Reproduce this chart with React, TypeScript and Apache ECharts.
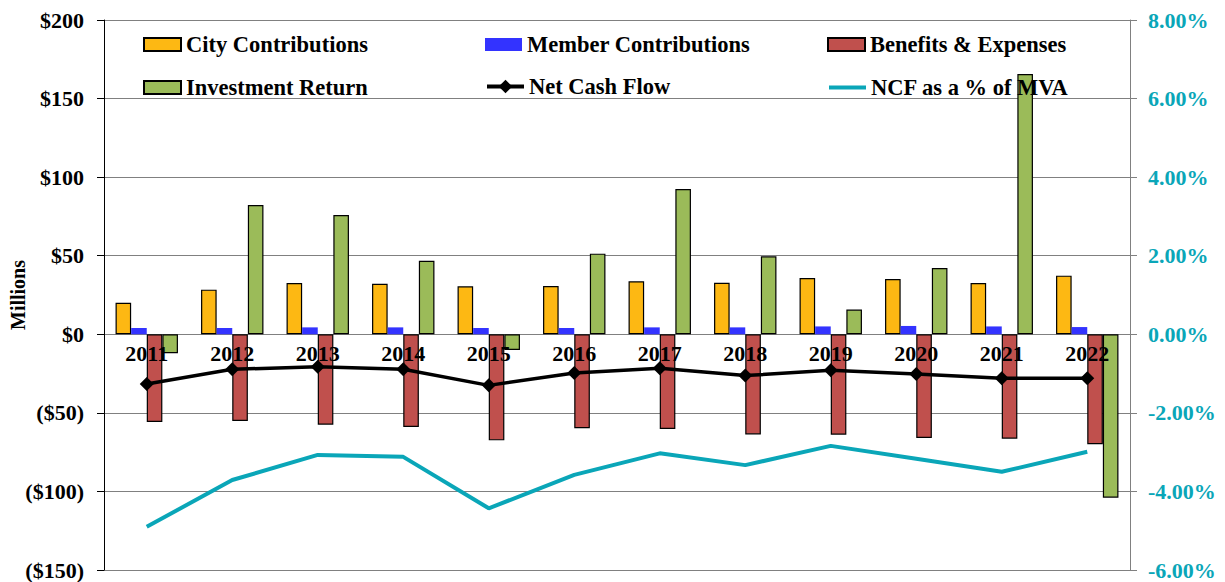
import React, { useEffect, useRef } from "react";
import * as echarts from "echarts";

const years = ["2011", "2012", "2013", "2014", "2015", "2016", "2017", "2018", "2019", "2020", "2021", "2022"];
const cityContributions = [20.1, 28.4, 32.6, 32.2, 30.5, 30.7, 33.7, 32.8, 35.8, 35.2, 32.6, 37.3];
const memberContributions = [4.0, 4.0, 4.4, 4.4, 4.0, 4.0, 4.4, 4.4, 5.0, 5.3, 5.0, 4.6];
const benefitsExpenses = [-55.8, -55.2, -57.5, -59.0, -67.5, -59.8, -60.3, -63.7, -63.9, -66.0, -66.4, -70.0];
const investmentReturn = [-12.1, 82.3, 75.9, 46.8, -10.0, 51.3, 92.5, 49.6, 15.7, 42.2, 165.6, -104.0];
const netCashFlow = [-31.6, -22.3, -20.6, -22.3, -32.5, -24.6, -21.6, -26.3, -22.9, -25.3, -28.0, -28.0];
const ncfPctMva = [-4.9, -3.71, -3.07, -3.12, -4.43, -3.58, -3.03, -3.33, -2.84, -3.17, -3.5, -2.99];
const leftMin = -150;
const leftMax = 200;

const FONT = "'Liberation Serif', 'Times New Roman', serif";
const TEAL = "#0AA6B8";

export default function App() {
  const ref = useRef<HTMLDivElement>(null);

  useEffect(() => {
    if (!ref.current) return;
    const chart = echarts.init(ref.current, null, { renderer: "svg" });
    const legendText = { fontFamily: FONT, fontWeight: "bold", fontSize: 22.5, color: "#000", lineHeight: 20 };
    const lg = (left: number, top: number, item: any, itemHeight = 13) => ({
      orient: "horizontal",
      left,
      top,
      itemWidth: 37,
      itemHeight,
      padding: 0,
      textStyle: legendText,
      data: [item],
    });
    const row1 = 33;
    const row2 = 76;
    chart.setOption({
      animation: false,
      backgroundColor: "#fff",
      textStyle: { fontFamily: FONT },
      grid: { left: 104, right: 95, top: 20, bottom: 12, containLabel: false, outerBoundsMode: "none" },
      legend: [
        lg(143, row1, { name: "City Contributions", icon: "rect" }),
        lg(143, row2, { name: "Investment Return", icon: "rect" }),
        lg(485, row1, { name: "Member Contributions", icon: "rect" }),
        lg(485, row2 - 1, { name: "Net Cash Flow", lineStyle: { width: 4, color: "#000" } }, 17),
        lg(827, row1, { name: "Benefits & Expenses", icon: "rect" }),
        lg(827, row2, { name: "NCF as a % of MVA", itemStyle: { opacity: 0 }, lineStyle: { width: 4, color: TEAL, opacity: 1 } }),
      ],
      xAxis: {
        type: "category",
        data: years,
        axisLine: { show: false, onZero: true },
        axisTick: { show: false },
        axisLabel: { fontFamily: FONT, fontWeight: "bold", fontSize: 22, color: "#000", margin: 8 },
        z: 10,
      },
      yAxis: [
        {
          type: "value",
          min: leftMin,
          max: leftMax,
          interval: 50,
          name: "Millions",
          nameLocation: "middle",
          nameGap: 76,
          nameMoveOverlap: false,
          nameRotate: 90,
          nameTextStyle: { fontFamily: FONT, fontWeight: "bold", fontSize: 20, color: "#000" },
          axisLine: { show: true, lineStyle: { color: "#000", width: 1 } },
          axisTick: { show: true, length: 7, lineStyle: { color: "#000" } },
          splitLine: { show: true, lineStyle: { color: "#808080", width: 1 } },
          axisLabel: {
            fontFamily: FONT,
            fontWeight: "bold",
            fontSize: 22,
            color: "#000",
            margin: 20,
            formatter: (v: number) => (v < 0 ? "($" + Math.abs(v) + ")" : "$" + v),
          },
        },
        {
          type: "value",
          min: -6,
          max: 8,
          interval: 2,
          position: "right",
          axisLine: { show: true, lineStyle: { color: "#808080", width: 1 } },
          axisTick: { show: true, length: 7, lineStyle: { color: "#808080" } },
          splitLine: { show: false },
          axisLabel: {
            fontFamily: FONT,
            fontWeight: "bold",
            fontSize: 22,
            color: TEAL,
            margin: 18,
            formatter: (v: number) => v.toFixed(2) + "%",
          },
        },
      ],
      series: [
        {
          name: "City Contributions",
          type: "bar",
          data: cityContributions,
          barGap: "0%",
          barCategoryGap: "27%",
          itemStyle: { color: "#FDB813", borderColor: "#000", borderWidth: 1.2 },
        },
        {
          name: "Member Contributions",
          type: "bar",
          data: memberContributions,
          itemStyle: { color: "#3333FF", borderWidth: 0 },
        },
        {
          name: "Benefits & Expenses",
          type: "bar",
          data: benefitsExpenses,
          itemStyle: { color: "#C0504D", borderColor: "#000", borderWidth: 1.2 },
        },
        {
          name: "Investment Return",
          type: "bar",
          data: investmentReturn,
          itemStyle: { color: "#9BBB59", borderColor: "#000", borderWidth: 1.2 },
        },
        {
          name: "Net Cash Flow",
          type: "line",
          data: netCashFlow,
          symbol: "diamond",
          symbolSize: 14,
          lineStyle: { color: "#000", width: 3.5 },
          itemStyle: { color: "#000" },
          z: 5,
        },
        {
          name: "NCF as a % of MVA",
          type: "line",
          yAxisIndex: 1,
          data: ncfPctMva,
          symbol: "none",
          lineStyle: { color: TEAL, width: 4 },
          itemStyle: { color: TEAL },
          z: 5,
        },
      ],
    });
    // Place category labels just below the zero line (as in the original chart)
    const zeroY = chart.convertToPixel({ yAxisIndex: 0 }, 0) as number;
    const bottomY = chart.convertToPixel({ yAxisIndex: 0 }, leftMin) as number;
    if (isFinite(zeroY) && isFinite(bottomY)) {
      chart.setOption({ xAxis: { axisLabel: { margin: -(bottomY - zeroY) + 8 } } });
    }
    return () => chart.dispose();
  }, []);

  return <div ref={ref} style={{ position: "fixed", left: 0, top: 0, width: 1225, height: 582 }} />;
}
